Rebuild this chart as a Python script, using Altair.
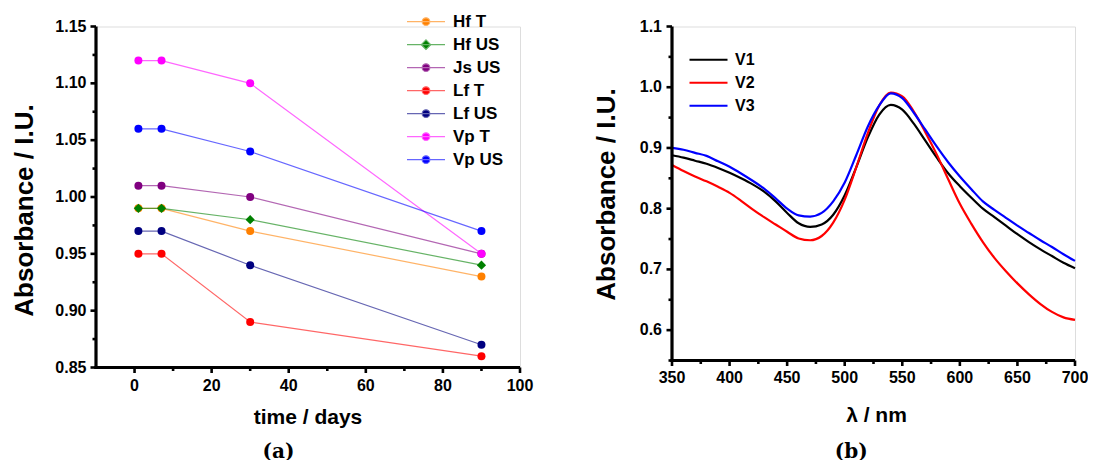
import altair as alt
import pandas as pd

# ---------------- panel (a) data ----------------
days = [1, 7, 30, 90]
series_a = ["Hf T", "Hf US", "Js US", "Lf T", "Lf US", "Vp T", "Vp US"]
hf_t = [0.99, 0.99, 0.97, 0.93]
hf_us = [0.99, 0.99, 0.98, 0.94]
js_us = [1.01, 1.01, 1.00, 0.95]
lf_t = [0.95, 0.95, 0.89, 0.86]
lf_us = [0.97, 0.97, 0.94, 0.87]
vp_t = [1.12, 1.12, 1.10, 0.95]
vp_us = [1.06, 1.06, 1.04, 0.97]
colors_a = ["#FF8000", "#008000", "#800080", "#FF0000", "#000080", "#FF00FF", "#0000FF"]
light_a = ["#FFB366", "#66B366", "#B366B3", "#FF6666", "#6666B3", "#FF66FF", "#6666FF"]

# ---------------- panel (b) data ----------------
wavelength = [350, 360, 370, 380, 390, 400, 410, 420, 430, 440, 450, 460,
              470, 480, 490, 500, 510, 520, 530, 540, 550, 560, 570, 580,
              590, 600, 610, 620, 630, 640, 650, 660, 670, 680, 690, 700]
v1 = [0.888, 0.884, 0.879, 0.874, 0.867, 0.859, 0.850, 0.840, 0.828, 0.812, 0.793, 0.776,
      0.770, 0.774, 0.790, 0.822, 0.868, 0.917, 0.955, 0.971, 0.963, 0.940, 0.912, 0.884,
      0.858, 0.837, 0.818, 0.800, 0.786, 0.772, 0.758, 0.745, 0.733, 0.722, 0.711, 0.702]
v2 = [0.872, 0.862, 0.853, 0.845, 0.836, 0.826, 0.813, 0.799, 0.786, 0.774, 0.762, 0.751,
      0.748, 0.755, 0.777, 0.815, 0.868, 0.924, 0.970, 0.991, 0.985, 0.960, 0.926, 0.889,
      0.848, 0.808, 0.775, 0.745, 0.719, 0.697, 0.677, 0.659, 0.643, 0.630, 0.621, 0.617]
v3 = [0.900, 0.897, 0.892, 0.887, 0.878, 0.869, 0.858, 0.846, 0.833, 0.817, 0.800, 0.789,
      0.787, 0.793, 0.812, 0.843, 0.888, 0.935, 0.970, 0.990, 0.982, 0.958, 0.930, 0.902,
      0.876, 0.853, 0.832, 0.812, 0.798, 0.785, 0.772, 0.760, 0.748, 0.737, 0.725, 0.714]
series_b = ["V1", "V2", "V3"]
colors_b = ["#000000", "#FF0000", "#0000FF"]

# ---------------- ticks and tick labels ----------------
xa_major = [0, 20, 40, 60, 80, 100]
xa_labels = ["0", "20", "40", "60", "80", "100"]
xa_minor = [10, 30, 50, 70, 90]
ya_major = [0.85, 0.9, 0.95, 1.0, 1.05, 1.1, 1.15]
ya_labels = ["0.85", "0.90", "0.95", "1.00", "1.05", "1.10", "1.15"]
ya_minor = [0.875, 0.925, 0.975, 1.025, 1.075, 1.125]
xb_major = [350, 400, 450, 500, 550, 600, 650, 700]
xb_labels = ["350", "400", "450", "500", "550", "600", "650", "700"]
xb_minor = [375, 425, 475, 525, 575, 625, 675]
yb_major = [0.6, 0.7, 0.8, 0.9, 1.0, 1.1]
yb_labels = ["0.6", "0.7", "0.8", "0.9", "1.0", "1.1"]
yb_minor = [0.55, 0.65, 0.75, 0.85, 0.95, 1.05]

# ---------------- tables ----------------
rows_a = []
for name, vals in zip(series_a, [hf_t, hf_us, js_us, lf_t, lf_us, vp_t, vp_us]):
    for d, v in zip(days, vals):
        rows_a.append({"day": d, "value": v, "series": name})
df_a = pd.DataFrame(rows_a)

rows_b = []
for name, vals in zip(series_b, [v1, v2, v3]):
    for w, v in zip(wavelength, vals):
        rows_b.append({"wl": w, "abs": v, "series": name})
df_b = pd.DataFrame(rows_b)

FONT = "Liberation Sans"
DOM_W = 3.2
TICK_W = 2.6
MAJ = 5.5
MIN = 3.5


def frame_layers(W, H, fx, fy, sx, sy, x_major, x_labels, x_minor, y_major, y_labels, y_minor,
                 xlab_y, ylab_x, xtitle, xtitle_x, xtitle_y, ytitle, ytitle_x, ytitle_y,
                 caption, cap_x, cap_y):
    """Axis lines, outward ticks, tick labels, axis titles and caption, placed through the panel's scales."""
    one = pd.DataFrame({"k": [0]})
    out = []
    for vals, ln in ((x_major, MAJ), (x_minor, MIN)):
        out.append(alt.Chart(pd.DataFrame({fx: vals})).mark_tick(
            color="black", opacity=1, thickness=TICK_W, size=ln, orient="vertical").encode(
            x=alt.X(f"{fx}:Q", scale=sx, axis=None), y=alt.value(H + ln / 2)))
    for vals, ln in ((y_major, MAJ), (y_minor, MIN)):
        out.append(alt.Chart(pd.DataFrame({fy: vals})).mark_tick(
            color="black", opacity=1, thickness=TICK_W, size=ln, orient="horizontal").encode(
            y=alt.Y(f"{fy}:Q", scale=sy, axis=None), x=alt.value(-ln / 2)))
    out.append(alt.Chart(one).mark_rect(color="black", opacity=1).encode(
        x=alt.value(-DOM_W / 2), x2=alt.value(W), y=alt.value(H - DOM_W / 2), y2=alt.value(H + DOM_W / 2)))
    out.append(alt.Chart(one).mark_rect(color="black", opacity=1).encode(
        x=alt.value(-DOM_W / 2), x2=alt.value(DOM_W / 2), y=alt.value(0), y2=alt.value(H + DOM_W / 2)))
    # tick labels
    out.append(alt.Chart(pd.DataFrame({fx: x_major, "lab": x_labels})).mark_text(
        font=FONT, fontSize=16, fontWeight="bold", color="black", align="center", baseline="top").encode(
        x=alt.X(f"{fx}:Q", scale=sx, axis=None), y=alt.value(H + xlab_y), text="lab:N"))
    out.append(alt.Chart(pd.DataFrame({fy: y_major, "lab": y_labels})).mark_text(
        font=FONT, fontSize=16, fontWeight="bold", color="black", align="right", baseline="middle").encode(
        y=alt.Y(f"{fy}:Q", scale=sy, axis=None), x=alt.value(ylab_x), text="lab:N"))
    # axis titles
    out.append(alt.Chart(one).mark_text(
        text=xtitle, font=FONT, fontSize=21, fontWeight="bold", color="black",
        align="center", baseline="middle").encode(x=alt.value(xtitle_x), y=alt.value(xtitle_y)))
    out.append(alt.Chart(one).mark_text(
        text=ytitle, font=FONT, fontSize=26, fontWeight="bold", color="black", angle=270,
        align="center", baseline="middle").encode(x=alt.value(ytitle_x), y=alt.value(ytitle_y)))
    # caption
    out.append(alt.Chart(one).mark_text(
        text=caption, font="DejaVu Serif", fontSize=20, fontWeight="bold", color="black",
        align="center", baseline="middle").encode(x=alt.value(cap_x), y=alt.value(cap_y)))
    return out


# ---------------- panel (a) ----------------
WA, HA = 424, 341
sx_a = alt.Scale(domain=[-10, 100], nice=False, zero=False)
sy_a = alt.Scale(domain=[0.85, 1.15], nice=False, zero=False)
xa = alt.X("day:Q", scale=sx_a, axis=None)
ya = alt.Y("value:Q", scale=sy_a, axis=None)

color_a = alt.Color("series:N", scale=alt.Scale(domain=series_a, range=colors_a), legend=None)

base_a = alt.Chart(df_a)
lines_a = base_a.mark_line(strokeWidth=1.2, strokeOpacity=0.6).encode(x=xa, y=ya, color=color_a, detail="series:N")
circles_a = base_a.transform_filter("datum.series != 'Hf US'").mark_circle(size=64, opacity=1).encode(x=xa, y=ya, color=color_a)
diam_a = base_a.transform_filter("datum.series == 'Hf US'").mark_point(shape="diamond", filled=True, size=86, opacity=1).encode(x=xa, y=ya, color=color_a)

circ_path = "M-1,0L1,0M-0.2,0A0.2,0.2,0,1,1,0.2,0A0.2,0.2,0,1,1,-0.2,0Z"
diam_path = "M-1,0L1,0M0,-0.25L0.25,0L0,0.25L-0.25,0Z"
shapes_a = [circ_path, diam_path, circ_path, circ_path, circ_path, circ_path, circ_path]

leg_a = alt.Legend(title=None, orient="none", legendX=310, legendY=-16, padding=0,
                   symbolSize=1444, symbolStrokeWidth=1.2, symbolOpacity=1,
                   clipHeight=22.25, rowPadding=0, labelOffset=7,
                   labelFont=FONT, labelFontSize=17, labelFontWeight="bold", labelColor="black")

legend_layer_a = base_a.transform_filter("false").mark_point(filled=True, size=1444, strokeWidth=1.2, opacity=1).encode(
    x=xa, y=ya,
    fill=alt.Fill("series:N", scale=alt.Scale(domain=series_a, range=colors_a), legend=leg_a),
    stroke=alt.Stroke("series:N", scale=alt.Scale(domain=series_a, range=light_a), legend=leg_a),
    shape=alt.Shape("series:N", scale=alt.Scale(domain=series_a, range=shapes_a), legend=leg_a),
)

panel_a = alt.layer(
    lines_a, circles_a, diam_a, legend_layer_a,
    *frame_layers(WA, HA, "day", "value", sx_a, sy_a,
                  xa_major, xa_labels, xa_minor, ya_major, ya_labels, ya_minor,
                  xlab_y=10.5, ylab_x=-9.5,
                  xtitle="time / days", xtitle_x=WA / 2, xtitle_y=HA + 50.5,
                  ytitle="Absorbance / I.U.", ytitle_x=-71, ytitle_y=184,
                  caption="(a)", cap_x=WA / 2 - 29.5, cap_y=HA + 84),
).properties(width=WA, height=HA)

# ---------------- panel (b) ----------------
WB, HB = 403, 334
sx_b = alt.Scale(domain=[350, 700], nice=False, zero=False)
sy_b = alt.Scale(domain=[0.55, 1.1], nice=False, zero=False)
xb = alt.X("wl:Q", scale=sx_b, axis=None)
yb = alt.Y("abs:Q", scale=sy_b, axis=None)

leg_b = alt.Legend(title=None, orient="none", legendX=16, legendY=22, padding=0,
                   symbolType="stroke", symbolSize=1444, symbolStrokeWidth=2.2,
                   clipHeight=22.5, rowPadding=0, labelOffset=6,
                   labelFont=FONT, labelFontSize=16, labelFontWeight="bold", labelColor="black")

lines_b = alt.Chart(df_b).mark_line(strokeWidth=2.2, interpolate="monotone").encode(
    x=xb, y=yb,
    color=alt.Color("series:N", scale=alt.Scale(domain=series_b, range=colors_b), legend=leg_b),
)

panel_b = alt.layer(
    lines_b,
    *frame_layers(WB, HB, "wl", "abs", sx_b, sy_b,
                  xb_major, xb_labels, xb_minor, yb_major, yb_labels, yb_minor,
                  xlab_y=9, ylab_x=-10,
                  xtitle="λ / nm", xtitle_x=WB / 2 + 3, xtitle_y=HB + 55.3,
                  ytitle="Absorbance / I.U.", ytitle_x=-64.7, ytitle_y=168,
                  caption="(b)", cap_x=179.3, cap_y=HB + 91.5),
).properties(width=WB, height=HB)

chart = alt.hconcat(panel_a, panel_b, spacing=152, bounds="flush").resolve_scale(
    color="independent"
).properties(
    padding={"left": 3, "top": 2.5, "right": -1, "bottom": -3}
).configure_view(stroke="transparent").configure(font=FONT, background="white")

chart.save("out.html", embed_options={"renderer": "svg", "actions": False})
